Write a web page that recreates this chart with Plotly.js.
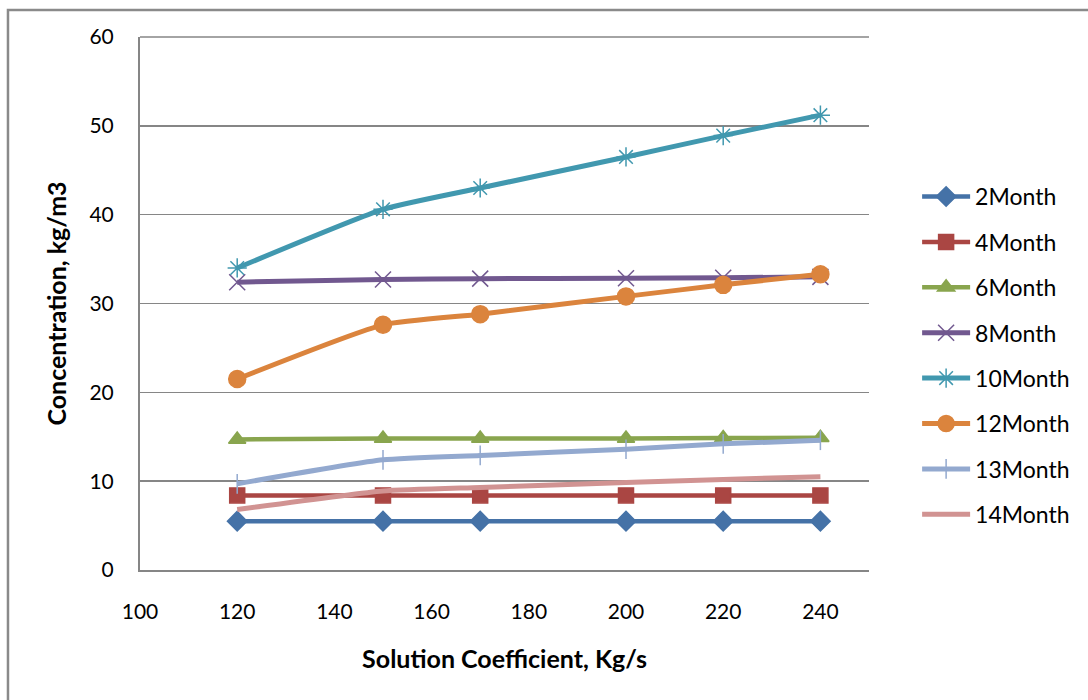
<!DOCTYPE html>
<html>
<head>
<meta charset="utf-8">
<script src="https://cdn.plot.ly/plotly-3.0.1.min.js"></script>
<style>html,body{margin:0;padding:0;background:#fff;}#chart{width:1088px;height:700px;}</style>
</head>
<body>
<div id="chart"></div>
<script>
const xValues = [120, 150, 170, 200, 220, 240];
const seriesNames = ["2Month", "4Month", "6Month", "8Month", "10Month", "12Month", "13Month", "14Month"];
const month2 = [5.5, 5.5, 5.5, 5.5, 5.5, 5.5];
const month4 = [8.4, 8.4, 8.4, 8.4, 8.4, 8.4];
const month6 = [14.7, 14.8, 14.8, 14.8, 14.85, 14.9];
const month8 = [32.4, 32.7, 32.8, 32.85, 32.9, 33.0];
const month10 = [34.0, 40.6, 43.0, 46.5, 48.9, 51.2];
const month12 = [21.5, 27.6, 28.8, 30.8, 32.1, 33.3];
const month13 = [9.7, 12.4, 12.9, 13.6, 14.2, 14.6];
const month14 = [6.8, 8.9, 9.3, 9.85, 10.2, 10.5];
const xTickVals = [100, 120, 140, 160, 180, 200, 220, 240];
const yTickVals = [0, 10, 20, 30, 40, 50, 60];

const seriesData = [month2, month4, month6, month8, month10, month12, month13, month14];
const colors = ["#4572A7", "#AA4643", "#89A54E", "#71588F", "#4198AF", "#DB843D", "#93A9CF", "#D19392"];
const symbols = ["diamond", "square", "triangle-up", "x-thin-open", "asterisk-open", "circle", "line-ns-open", "line-ns-open"];
const sizes = [15, 15, 15, 16, 16, 17, 14, 0];
const widths = [4.5, 4.5, 4.5, 5, 5, 5, 5, 5];

const FONT = "Lato, 'Open Sans', sans-serif";

const traces = seriesData.map((ys, i) => ({
  x: xValues,
  y: ys,
  name: seriesNames[i],
  legendgroup: "g" + i,
  type: "scatter",
  mode: sizes[i] > 0 ? "lines+markers" : "lines",
  line: {color: colors[i], width: widths[i], shape: "spline", smoothing: 0.5},
  marker: {symbol: symbols[i], size: sizes[i], color: colors[i], line: {color: colors[i], width: 1.5}}
}));

const layout = {
  width: 1088,
  height: 700,
  margin: {l: 140, r: 219, t: 37, b: 130},
  paper_bgcolor: "#ffffff",
  plot_bgcolor: "#ffffff",
  font: {family: FONT, size: 21, color: "#000000"},
  showlegend: true,
  legend: {
    x: 1.066, y: 0.741, xanchor: "left", yanchor: "top",
    font: {family: FONT, size: 23, color: "#000000"},
    tracegroupgap: 12.5,
    itemwidth: 48,
    traceorder: "grouped",
    bgcolor: "rgba(0,0,0,0)"
  },
  xaxis: {
    range: [100, 250],
    tickvals: xTickVals,
    showgrid: false,
    zeroline: false,
    showline: true,
    linecolor: "#868686",
    linewidth: 2,
    ticks: "outside",
    ticklen: 22,
    tickcolor: "rgba(0,0,0,0)",
    tickfont: {family: FONT, size: 21, color: "#000000"},
    title: {text: "<b>Solution Coefficient, Kg/s</b>", font: {family: FONT, size: 25, color: "#000000"}, standoff: 28}
  },
  yaxis: {
    range: [0, 60],
    tickvals: yTickVals,
    showgrid: true,
    gridcolor: "#868686",
    gridwidth: 1.5,
    zeroline: false,
    showline: true,
    linecolor: "#868686",
    linewidth: 2,
    ticks: "outside",
    ticklen: 20,
    tickcolor: "rgba(0,0,0,0)",
    tickfont: {family: FONT, size: 21, color: "#000000"},
    title: {text: "<b>Concentration, kg/m3</b>", font: {family: FONT, size: 25, color: "#000000"}, standoff: 16}
  },
  shapes: [{
    type: "rect", xref: "paper", yref: "paper",
    x0: -0.1811, x1: 1.35, y0: -0.3, y1: 1.0507,
    line: {color: "#8a8a8a", width: 2.5}, fillcolor: "rgba(0,0,0,0)", layer: "below"
  }, {
    type: "line", xref: "paper", yref: "paper",
    x0: 0, x1: 1, y0: 1, y1: 1,
    line: {color: "#868686", width: 1.5}, layer: "below"
  }]
};

Plotly.newPlot("chart", traces, layout, {displayModeBar: false, staticPlot: true});
</script>
</body>
</html>
